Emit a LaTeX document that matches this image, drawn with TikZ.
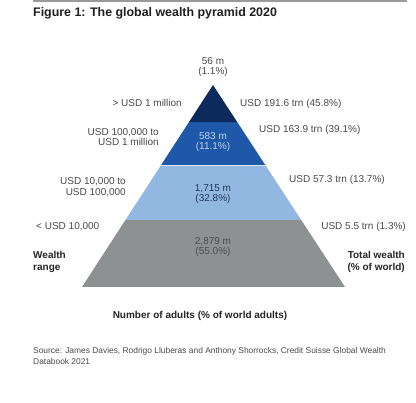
\documentclass[tikz,border=0pt]{standalone}
\usepackage{fontspec}
\setmainfont{Liberation Sans}
\usetikzlibrary{calc}
\definecolor{tierA}{HTML}{0C2B5C}
\definecolor{tierB}{HTML}{1F58A8}
\definecolor{tierC}{HTML}{92B8E2}
\definecolor{tierD}{HTML}{8E9192}
\definecolor{lbl}{HTML}{4A4A4A}
\definecolor{topbar}{HTML}{9A9A9A}
\tikzset{
  lab/.style={font=\fontsize{10}{10.8}\selectfont, text=lbl, inner sep=0pt},
  labR/.style={lab, anchor=east, align=right},
  labL/.style={lab, anchor=west, align=left},
  inlab/.style={lab, align=center, anchor=center},
  blab/.style={font=\bfseries\fontsize{10}{11.5}\selectfont, text=black!85, inner sep=0pt},
}
\begin{document}
\begin{tikzpicture}[x=1pt,y=-1pt]
\useasboundingbox (0,0) rectangle (416,403);
\fill[white] (0,0) rectangle (416,403);
% top bar
\fill[topbar] (33,0) rectangle (407,2.5);
\node[font=\bfseries\fontsize{12.4}{14}\selectfont, text=black!88, anchor=west, inner sep=0pt] (title) at (33,13) {Figure 1: The global wealth pyramid 2020};
% pyramid geometry
\coordinate (A) at (213,85);
\coordinate (BL) at (82,287);
\coordinate (BR) at (345,287);
\coordinate (L1) at ($(A)!0.1832!(BL)$);
\coordinate (R1) at ($(A)!0.1832!(BR)$);
\coordinate (L2) at ($(A)!0.396!(BL)$);
\coordinate (R2) at ($(A)!0.396!(BR)$);
\coordinate (L3) at ($(A)!0.668!(BL)$);
\coordinate (R3) at ($(A)!0.668!(BR)$);
\fill[tierD] (L3) -- (R3) -- (BR) -- (BL) -- cycle;
\fill[tierC] (L2) -- (R2) -- (R3) -- (L3) -- cycle;
\fill[tierB] (L1) -- (R1) -- (R2) -- (L2) -- cycle;
\fill[tierA] (A) -- (R1) -- (L1) -- cycle;
\draw[white!70!tierC, line width=0.6pt] (L2) -- (R2);
% top label
\node[inlab] (topn) at (213,67) {56 m\\(1.1\%)};
% inner labels
\node[inlab, text=tierC!60!white] (n2) at (213,142) {583 m\\(11.1\%)};
\node[inlab, text=tierA!70!lbl] (n3) at (213,194) {1,715 m\\(32.8\%)};
\node[inlab, text=black!70] (n4) at (213,247) {2,879 m\\(55.0\%)};
% left labels
\node[labR] (w1) at (182,103) {> USD 1 million};
\node[labR] (w2) at (159,137) {USD 100,000 to\\USD 1 million};
\node[labR] (w3) at (126,187) {USD 10,000 to\\USD 100,000};
\node[labL] (w4) at (36,227) {< USD 10,000};
% right labels
\node[labL] (t1) at (240,104) {USD 191.6 trn (45.8\%)};
\node[labL] (t2) at (259,130) {USD 163.9 trn (39.1\%)};
\node[labL] (t3) at (289,180) {USD 57.3 trn (13.7\%)};
\node[labR] (t4) at (406,227) {USD 5.5 trn (1.3\%)};
% axis titles
\node[blab, anchor=west, align=left] (wr) at (33,262) {Wealth\\range};
\node[blab, anchor=east, align=right] (tw) at (405,262) {Total wealth\\(\% of world)};
\node[blab] (na) at (200,316) {Number of adults (\% of world adults)};
% source
\node[font=\fontsize{8.4}{11}\selectfont, text=lbl, anchor=north west, align=left, inner sep=0pt] (src) at (33,347) {Source: James Davies, Rodrigo Lluberas and Anthony Shorrocks, Credit Suisse Global Wealth\\Databook 2021};
\end{tikzpicture}
\end{document}
